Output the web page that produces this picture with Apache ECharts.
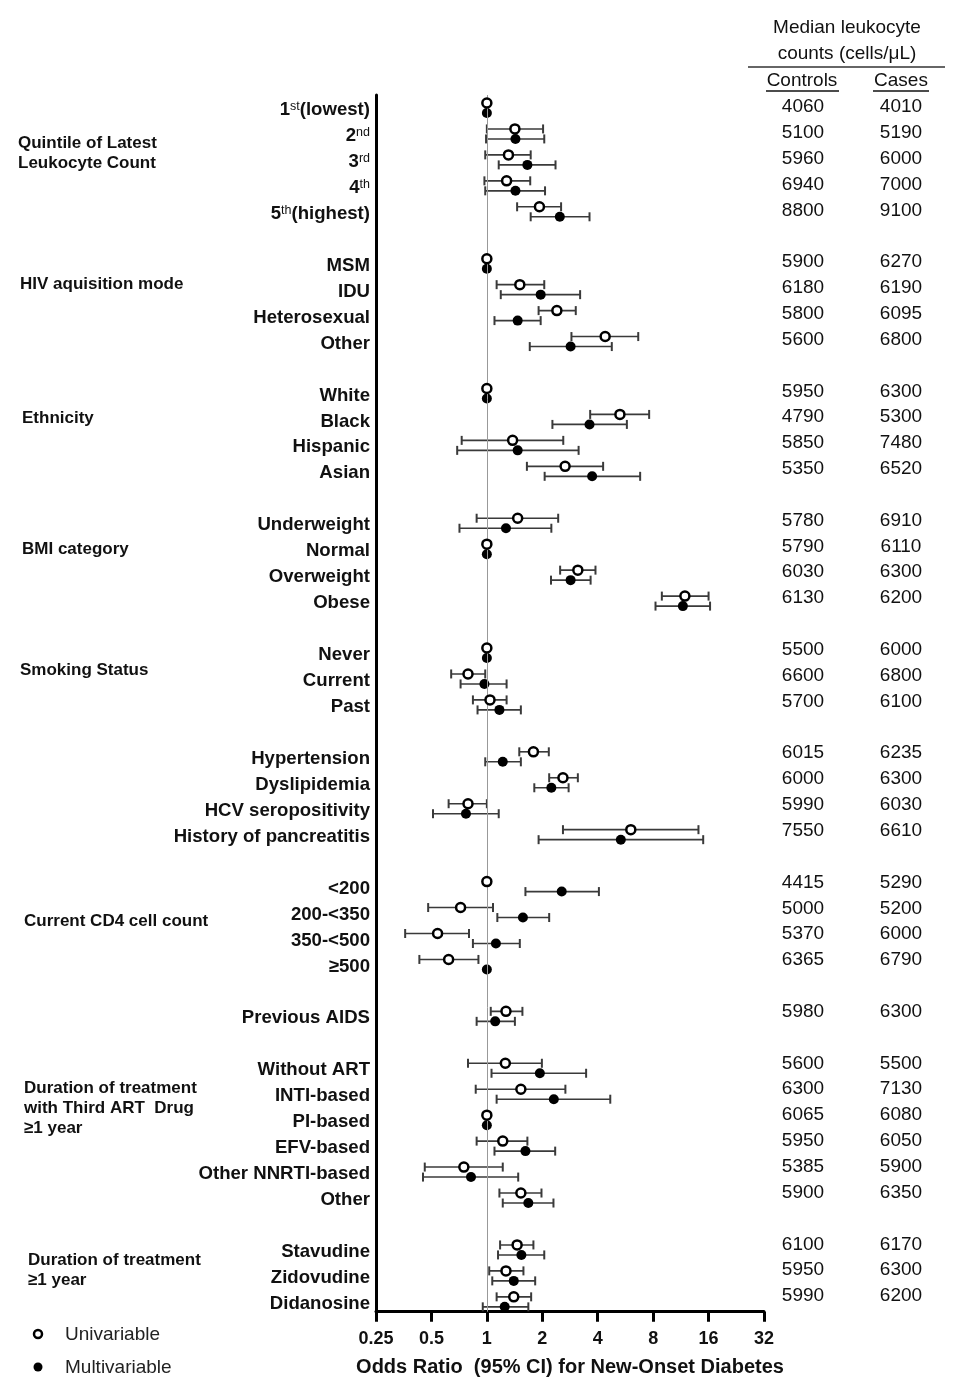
<!DOCTYPE html>
<html><head><meta charset="utf-8">
<script src="https://cdn.jsdelivr.net/npm/echarts@6/dist/echarts.min.js"></script>
<style>html,body{margin:0;padding:0;background:#fff}#c{width:960px;height:1379px}</style>
</head><body><div id="c"></div>
<script>
const rowLabels = ['1{s|st}(lowest)','2{s|nd}','3{s|rd}','4{s|th}','5{s|th}(highest)','',
 'MSM','IDU','Heterosexual','Other','',
 'White','Black','Hispanic','Asian','',
 'Underweight','Normal','Overweight','Obese','',
 'Never','Current','Past','',
 'Hypertension','Dyslipidemia','HCV seropositivity','History of pancreatitis','',
 '<200','200-<350','350-<500','≥500','',
 'Previous AIDS','',
 'Without ART','INTI-based','PI-based','EFV-based','Other NNRTI-based','Other','',
 'Stavudine','Zidovudine','Didanosine'];
const N = null;
const uniOR = [1,1.42,1.31,1.28,1.93,N, 1,1.51,2.40,4.39,N, 1,5.28,1.38,2.66,N, 1.47,1,3.12,11.9,N, 1,0.79,1.04,N, 1.79,2.59,0.79,6.05,N, 1,0.72,0.54,0.62,N, 1.27,N, 1.26,1.53,1,1.22,0.75,1.53,N, 1.46,1.27,1.40];
const uniLo = [N,1.0,0.98,0.97,1.46,N, N,1.13,1.91,2.88,N, N,3.64,0.73,1.65,N, 0.88,N,2.50,8.92,N, N,0.64,0.84,N, 1.50,2.18,0.62,2.59,N, N,0.48,0.36,0.43,N, 1.05,N, 0.79,0.87,N,0.88,0.46,1.17,N, 1.18,1.03,1.13];
const uniHi = [N,2.02,1.73,1.72,2.53,N, N,2.05,3.04,6.64,N, N,7.61,2.60,4.28,N, 2.44,N,3.89,16.0,N, N,0.98,1.28,N, 2.17,3.12,1.0,14.1,N, N,1.08,0.80,0.90,N, 1.56,N, 1.99,2.67,N,1.66,1.22,1.98,N, 1.79,1.58,1.74];
const mulOR = [1,1.43,1.66,1.43,2.49,N, 1,1.96,1.47,2.85,N, 1,3.61,1.47,3.73,N, 1.27,1,2.85,11.6,N, 1,0.97,1.17,N, 1.22,2.24,0.77,5.34,N, 2.55,1.57,1.12,1,N, 1.11,N, 1.94,2.31,1,1.62,0.82,1.68,N, 1.54,1.40,1.25];
const mulLo = [N,0.99,1.16,0.98,1.73,N, N,1.19,1.10,1.71,N, N,2.27,0.69,2.06,N, 0.71,N,2.23,8.24,N, N,0.72,0.89,N, 0.98,1.81,0.51,1.91,N, 1.62,1.14,0.84,N,N, 0.88,N, 1.06,1.13,N,1.10,0.45,1.22,N, 1.15,1.07,0.95];
const mulHi = [N,2.05,2.36,2.07,3.61,N, N,3.21,1.96,4.77,N, N,5.76,3.15,6.80,N, 2.24,N,3.66,16.3,N, N,1.28,1.53,N, 1.53,2.78,1.16,14.96,N, 4.06,2.18,1.51,N,N, 1.42,N, 3.46,4.68,N,2.35,1.48,2.30,N, 2.05,1.83,1.68];
const controls = ['4060','5100','5960','6940','8800','', '5900','6180','5800','5600','', '5950','4790','5850','5350','', '5780','5790','6030','6130','', '5500','6600','5700','', '6015','6000','5990','7550','', '4415','5000','5370','6365','', '5980','', '5600','6300','6065','5950','5385','5900','', '6100','5950','5990'];
const cases = ['4010','5190','6000','7000','9100','', '6270','6190','6095','6800','', '6300','5300','7480','6520','', '6910','6110','6300','6200','', '6000','6800','6100','', '6235','6300','6030','6610','', '5290','5200','6000','6790','', '6300','', '5500','7130','6080','6050','5900','6350','', '6170','6300','6200'];
const xTicks = [0.25,0.5,1,2,4,8,16,32];
const groupLabels = [
 {lines:['Quintile of Latest','Leukocyte Count'], x:18, y:143},
 {lines:['HIV aquisition mode'], x:20, y:284},
 {lines:['Ethnicity'], x:22, y:418},
 {lines:['BMI category'], x:22, y:549},
 {lines:['Smoking Status'], x:20, y:670},
 {lines:['Current CD4 cell count'], x:24, y:921},
 {lines:['Duration of treatment','with Third ART  Drug','≥1 year'], x:24, y:1088},
 {lines:['Duration of treatment','≥1 year'], x:28, y:1260}
];

const FONT = "'Liberation Sans', Arial, sans-serif";
const chart = echarts.init(document.getElementById('c'), null, {renderer:'canvas'});

function barRender(off){
  return function(params, api){
    const y = api.value(0);
    const a = api.coord([api.value(1), y]);
    const b = api.coord([api.value(2), y]);
    const yy = a[1] + off, c = 4.5;
    const col = '#3a3a3a';
    return {type:'group', children:[
      {type:'line', shape:{x1:a[0],y1:yy,x2:b[0],y2:yy}, style:{stroke:col,lineWidth:1.6}},
      {type:'line', shape:{x1:a[0],y1:yy-c,x2:a[0],y2:yy+c}, style:{stroke:col,lineWidth:2}},
      {type:'line', shape:{x1:b[0],y1:yy-c,x2:b[0],y2:yy+c}, style:{stroke:col,lineWidth:2}}
    ]};
  };
}
const uniBars=[], mulBars=[], uniPts=[], mulPts=[], labelPts=[], ctrlPts=[], casePts=[];
rowLabels.forEach((l,i)=>{
  if(uniLo[i]!=null) uniBars.push([i,uniLo[i],uniHi[i]]);
  if(mulLo[i]!=null) mulBars.push([i,mulLo[i],mulHi[i]]);
  if(uniOR[i]!=null) uniPts.push([uniOR[i],i]);
  if(mulOR[i]!=null) mulPts.push([mulOR[i],i]);
  if(l) labelPts.push({value:[xTicks[0],i], name:l});
  if(controls[i]) ctrlPts.push({value:[0,i], name:controls[i]});
  if(cases[i]) casePts.push({value:[1,i], name:cases[i]});
});

const graphics = [];
groupLabels.forEach(g=>{
  g.lines.forEach((t,k)=>{
    graphics.push({type:'text', x:g.x, y:g.y + k*20, style:{text:t, font:"bold 17px "+FONT, fill:'#111', verticalAlign:'middle'}});
  });
});
graphics.push(
  {type:'text', x:847, y:28, style:{text:'Median leukocyte', font:"19px "+FONT, fill:'#111', align:'center', verticalAlign:'middle'}},
  {type:'text', x:847, y:54, style:{text:'counts (cells/μL)', font:"19px "+FONT, fill:'#111', align:'center', verticalAlign:'middle'}},
  {type:'line', shape:{x1:748,y1:67,x2:945,y2:67}, style:{stroke:'#333',lineWidth:1.5}},
  {type:'text', x:802, y:81, style:{text:'Controls', font:"19px "+FONT, fill:'#111', align:'center', verticalAlign:'middle'}},
  {type:'line', shape:{x1:766,y1:91,x2:839,y2:91}, style:{stroke:'#111',lineWidth:1.3}},
  {type:'text', x:901, y:81, style:{text:'Cases', font:"19px "+FONT, fill:'#111', align:'center', verticalAlign:'middle'}},
  {type:'line', shape:{x1:873,y1:91,x2:929,y2:91}, style:{stroke:'#111',lineWidth:1.3}},
  {type:'circle', shape:{cx:38,cy:1334,r:4}, style:{fill:'#fff',stroke:'#000',lineWidth:2.5}},
  {type:'circle', shape:{cx:38,cy:1367,r:4.5}, style:{fill:'#000'}},
  {type:'text', x:65, y:1335, style:{text:'Univariable', font:"19px "+FONT, fill:'#222', verticalAlign:'middle'}},
  {type:'text', x:65, y:1368, style:{text:'Multivariable', font:"19px "+FONT, fill:'#222', verticalAlign:'middle'}}
);

chart.setOption({
  animation:false,
  backgroundColor:'#fff',
  textStyle:{fontFamily:FONT},
  grid:[
    {left:376, right:196, top:95, bottom:67.3, containLabel:false, outerBoundsMode:'none'},
    {left:754, width:196, top:95, bottom:67.3, containLabel:false, outerBoundsMode:'none'}
  ],
  xAxis:[
    {type:'log', logBase:2, min:0.25, max:32, interval:1, gridIndex:0, position:'bottom',
     axisLine:{show:true, onZero:false, lineStyle:{color:'#000', width:3}},
     axisTick:{show:true, length:10, lineStyle:{color:'#000', width:3}},
     axisLabel:{show:true, margin:18, fontSize:18, fontWeight:'bold', color:'#111', fontFamily:FONT,
       formatter:v=>{ const m = xTicks.find(t=>Math.abs(t-v)<1e-6); return m!=null? String(m): ''; }},
     splitLine:{show:false},
     name:'Odds Ratio  (95% CI) for New-Onset Diabetes', nameLocation:'middle', nameGap:46,
     nameTextStyle:{fontSize:20, fontWeight:'bold', color:'#111', fontFamily:FONT}},
    {type:'category', data:['Controls','Cases'], gridIndex:1, show:false}
  ],
  yAxis:[
    {type:'value', inverse:true, min:-0.5, max:46.38, gridIndex:0,
     axisLine:{show:true, onZero:false, lineStyle:{color:'#000', width:3}}, axisTick:{show:false}, axisLabel:{show:false}, splitLine:{show:false}},
    {type:'value', inverse:true, min:-0.464, max:46.608, gridIndex:1, show:false}
  ],
  graphic:graphics,
  series:[
    {type:'scatter', xAxisIndex:0, yAxisIndex:0, data:labelPts, symbolSize:0, silent:true, clip:false,
     itemStyle:{opacity:1},
     label:{show:true, position:'left', distance:6, offset:[0,2], formatter:p=>p.name, fontSize:18.6, fontWeight:'bold', color:'#111', fontFamily:FONT,
       rich:{s:{fontSize:12.5, fontWeight:'normal', color:'#111', verticalAlign:'top', lineHeight:11, fontFamily:FONT}}},
     markLine:{silent:true, symbol:['none','none'], label:{show:false}, lineStyle:{color:'#999', width:1, type:'solid', opacity:1}, data:[{xAxis:1}]}},
    {type:'custom', xAxisIndex:0, yAxisIndex:0, renderItem:barRender(5), data:mulBars, encode:{x:[1,2], y:0}, silent:true, z:3},
    {type:'custom', xAxisIndex:0, yAxisIndex:0, renderItem:barRender(-5), data:uniBars, encode:{x:[1,2], y:0}, silent:true, z:3},
    {type:'scatter', xAxisIndex:0, yAxisIndex:0, data:mulPts, symbol:'circle', symbolSize:10, symbolOffset:[0,5],
     itemStyle:{color:'#000', opacity:1}, z:4, silent:true},
    {type:'scatter', xAxisIndex:0, yAxisIndex:0, data:uniPts, symbol:'circle', symbolSize:9, symbolOffset:[0,-5],
     itemStyle:{color:'#fff', borderColor:'#000', borderWidth:2.5, opacity:1}, z:5, silent:true},
    {type:'scatter', xAxisIndex:1, yAxisIndex:1, data:ctrlPts, symbolSize:0, silent:true, itemStyle:{opacity:1},
     label:{show:true, position:'inside', formatter:p=>p.name, fontSize:19, color:'#111', fontFamily:FONT}},
    {type:'scatter', xAxisIndex:1, yAxisIndex:1, data:casePts, symbolSize:0, silent:true, itemStyle:{opacity:1},
     label:{show:true, position:'inside', formatter:p=>p.name, fontSize:19, color:'#111', fontFamily:FONT}}
  ]
});
</script></body></html>
